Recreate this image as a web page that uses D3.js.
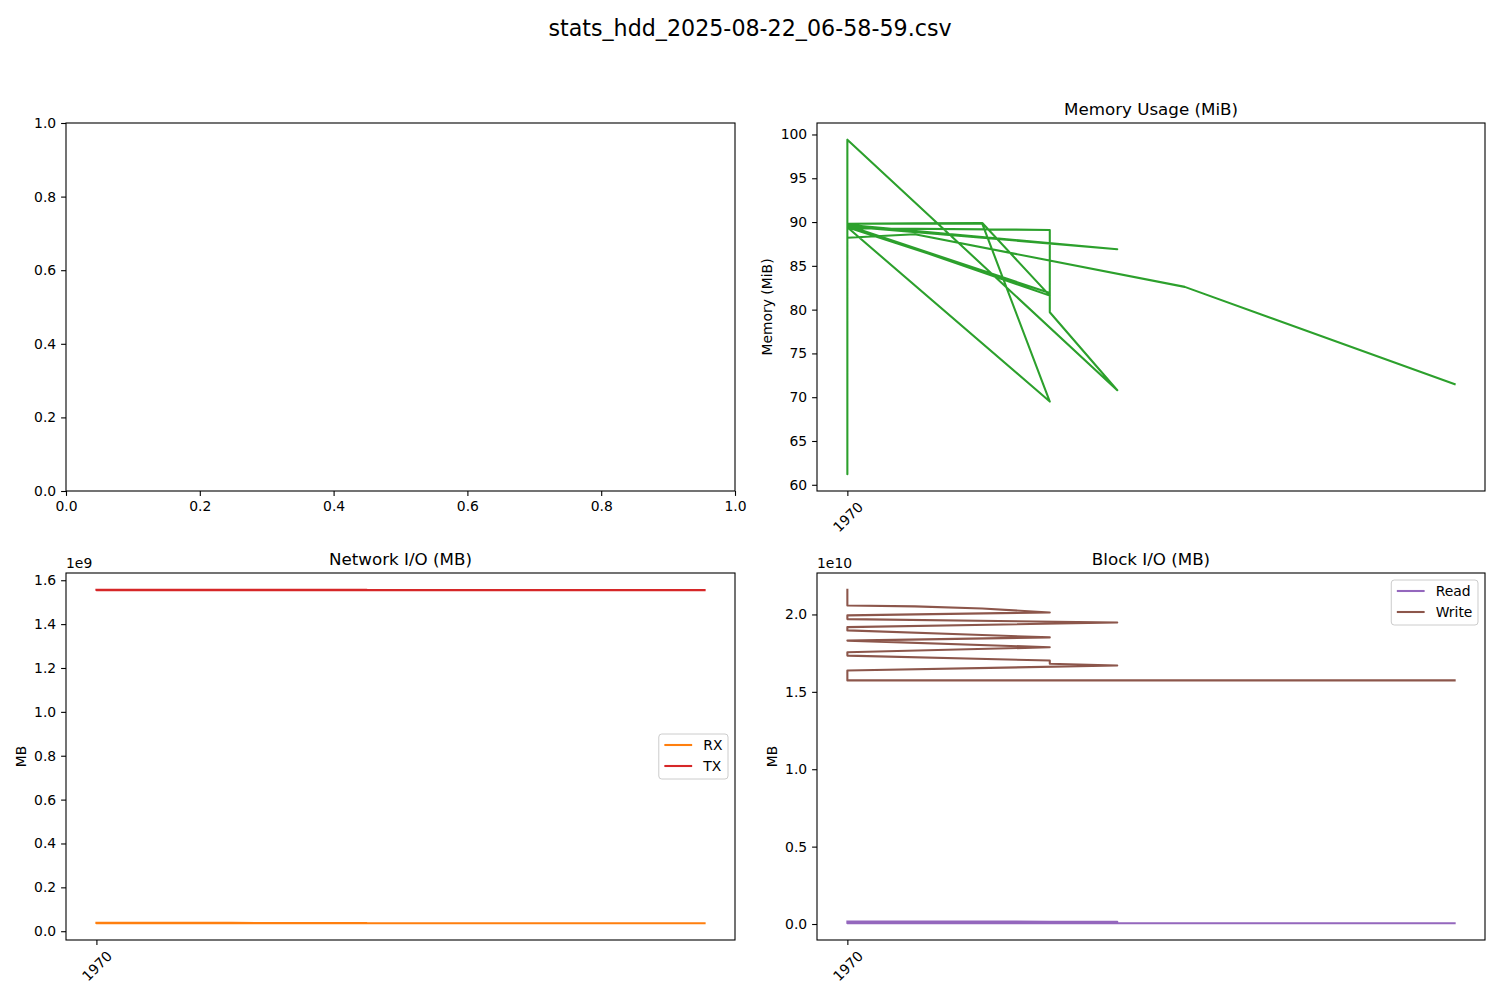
<!DOCTYPE html>
<html>
<head>
<meta charset="utf-8">
<script src="https://cdn.jsdelivr.net/npm/d3@7"></script>
<style>
  body { margin: 0; background: #fff; }
  text { font-family: "DejaVu Sans", sans-serif; fill: #000; }
</style>
</head>
<body>
<div id="chart"></div>
<script>
// Samples in file order. Time positions are tiny offsets from the epoch,
// so matplotlib only labels one tick: 1970.
const sampleTime = [0, 0, 1, 2, 3, 0, 0, 4, 0, 0, 2, 3, 0, 3, 0, 0, 3, 3, 4, 0, 0, 0, 1, 5, 9];
const memMiB = [89.7, 89.8, 89.85, 89.9, 81.6, 89.6, 89.7, 86.9, 89.5, 89.8, 89.8, 69.5, 89.4, 81.9,
  89.6, 89.3, 89.1, 79.7, 70.8, 99.4, 61.2, 88.2, 88.6, 82.6, 71.5];
// network, units of 1e9
const netRx = [0.038, 0.038, 0.038, 0.038, 0.037, 0.038, 0.038, 0.037, 0.038, 0.037, 0.037, 0.037, 0.037, 0.036,
  0.037, 0.037, 0.036, 0.036, 0.036, 0.036, 0.036, 0.036, 0.036, 0.036, 0.036];
const netTx = [1.557, 1.557, 1.557, 1.557, 1.556, 1.557, 1.557, 1.556, 1.557, 1.556, 1.556, 1.556, 1.556, 1.555,
  1.556, 1.556, 1.555, 1.555, 1.555, 1.555, 1.555, 1.555, 1.555, 1.555, 1.555];
// block io, units of 1e10
const blkRead = [0.016, 0.0155, 0.0155, 0.0154, 0.015, 0.0149, 0.0148, 0.0145, 0.0145, 0.0143, 0.0143, 0.014, 0.014, 0.0138,
  0.0138, 0.0137, 0.0135, 0.0135, 0.0134, 0.0134, 0.0045, 0.0045, 0.0045, 0.0045, 0.0045];
const blkWrite = [2.16, 2.058, 2.052, 2.038, 2.013, 1.994, 1.97, 1.948, 1.918, 1.897, 1.867, 1.852, 1.831, 1.788,
  1.756, 1.734, 1.702, 1.681, 1.670, 1.638, 1.574, 1.574, 1.574, 1.574, 1.574];

const timeTicks = [0];
const timeTickLabels = ["1970"];
const memTicks = [60, 65, 70, 75, 80, 85, 90, 95, 100];
const netTicks = [0, 0.2, 0.4, 0.6, 0.8, 1.0, 1.2, 1.4, 1.6];
const blkTicks = [0, 0.5, 1.0, 1.5, 2.0];
const unitTicks = [0, 0.2, 0.4, 0.6, 0.8, 1.0];

const colors = { rx: "#ff7f0e", tx: "#d62728", mem: "#2ca02c", read: "#9467bd", write: "#8c564b" };

const width = 1500, height = 1000;
const tickFont = 13.9, titleFont = 16.7, lineW = 2.08;

// axes boxes, same grid as plt.subplots(2, 2)
const panels = {
  empty: { left: 66, right: 735, top: 123, bottom: 491 },
  mem:   { left: 817, right: 1485, top: 123, bottom: 491 },
  net:   { left: 66, right: 735, top: 573, bottom: 940 },
  blk:   { left: 817, right: 1485, top: 573, bottom: 940 }
};

const svg = d3.select("#chart").append("svg")
  .attr("width", width)
  .attr("height", height);

// matplotlib style autoscale: data extent plus 5% each side
function padExtent(values) {
  const [lo, hi] = d3.extent(values);
  const m = (hi - lo) * 0.05;
  return [lo - m, hi + m];
}

function styleAxis(g) {
  g.select(".domain").remove();
  g.selectAll(".tick line").attr("stroke", "#000").attr("stroke-width", 1.1);
  g.selectAll(".tick text").style("font-size", tickFont + "px").attr("fill", "#000");
}

function drawFrame(p) {
  svg.append("rect")
    .attr("x", p.left).attr("y", p.top)
    .attr("width", p.right - p.left).attr("height", p.bottom - p.top)
    .attr("fill", "none").attr("stroke", "#000").attr("stroke-width", 1.1);
}

function timeAxis(p, x) {
  const g = svg.append("g")
    .attr("transform", `translate(0,${p.bottom})`)
    .call(d3.axisBottom(x).tickValues(timeTicks).tickFormat((d, i) => timeTickLabels[i])
      .tickSize(4.9).tickPadding(4.9));
  styleAxis(g);
  g.selectAll(".tick text")
    .attr("y", 0).attr("dy", null)
    .attr("text-anchor", "middle")
    .attr("dominant-baseline", "central")
    .attr("transform", "translate(0,26) rotate(-45)");
}

function valueAxis(p, y, ticks, fmt) {
  const g = svg.append("g")
    .attr("transform", `translate(${p.left},0)`)
    .call(d3.axisLeft(y).tickValues(ticks).tickFormat(fmt).tickSize(4.9).tickPadding(4.9));
  styleAxis(g);
}

function addTitle(p, text) {
  svg.append("text")
    .attr("x", (p.left + p.right) / 2)
    .attr("y", p.top - 8.3)
    .attr("text-anchor", "middle")
    .style("font-size", titleFont + "px")
    .text(text);
}

function addYLabel(p, x, text) {
  svg.append("text")
    .attr("text-anchor", "middle")
    .attr("dominant-baseline", "central")
    .attr("transform", `translate(${x},${(p.top + p.bottom) / 2}) rotate(-90)`)
    .style("font-size", tickFont + "px")
    .text(text);
}

function addOffset(p, text) {
  svg.append("text")
    .attr("x", p.left)
    .attr("y", p.top - 5)
    .style("font-size", tickFont + "px")
    .text(text);
}

function drawSeries(x, y, values, color) {
  const line = d3.line()
    .x((d, i) => x(sampleTime[i]))
    .y(d => y(d));
  svg.append("path")
    .datum(values)
    .attr("fill", "none")
    .attr("stroke", color)
    .attr("stroke-width", lineW)
    .attr("stroke-linejoin", "round")
    .attr("stroke-linecap", "square")
    .attr("d", line);
}

function addLegend(p, items, anchor) {
  const em = tickFont;
  const pad = 0.4 * em, handle = 2 * em, gap = 0.8 * em;
  const rowGap = 21;
  const boxH = 45;
  const top = anchor === "upper right" ? p.top + 7 : (p.top + p.bottom) / 2 - boxH / 2;
  const g = svg.append("g");
  const box = g.append("rect")
    .attr("height", boxH)
    .attr("rx", 3)
    .attr("fill", "#fff").attr("fill-opacity", 0.8)
    .attr("stroke", "#cccccc").attr("stroke-width", 1);
  const labels = items.map((d, i) => {
    const cy = 11 + i * rowGap;
    g.append("line")
      .attr("x1", pad).attr("x2", pad + handle)
      .attr("y1", cy).attr("y2", cy)
      .attr("stroke", d.color).attr("stroke-width", lineW);
    return g.append("text")
      .attr("x", pad + handle + gap)
      .attr("y", cy)
      .attr("dominant-baseline", "central")
      .style("font-size", em + "px")
      .text(d.label);
  });
  const textW = d3.max(labels, t => t.node().getComputedTextLength());
  const boxW = pad * 2 + handle + gap + textW;
  box.attr("width", boxW);
  g.attr("transform", `translate(${p.right - 7 - boxW},${top})`);
}

// figure title
svg.append("text")
  .attr("x", width / 2)
  .attr("y", 36)
  .attr("text-anchor", "middle")
  .style("font-size", "22.2px")
  .text("stats_hdd_2025-08-22_06-58-59.csv");

// top-left: empty axes (CPU plot had nothing to draw)
{
  const p = panels.empty;
  const x = d3.scaleLinear().domain([0, 1]).range([p.left, p.right]);
  const y = d3.scaleLinear().domain([0, 1]).range([p.bottom, p.top]);
  drawFrame(p);
  const gx = svg.append("g")
    .attr("transform", `translate(0,${p.bottom})`)
    .call(d3.axisBottom(x).tickValues(unitTicks).tickFormat(d3.format(".1f")).tickSize(4.9).tickPadding(4.9));
  styleAxis(gx);
  valueAxis(p, y, unitTicks, d3.format(".1f"));
}

// top-right: memory
{
  const p = panels.mem;
  const x = d3.scaleLinear().domain(padExtent(sampleTime)).range([p.left, p.right]);
  const y = d3.scaleLinear().domain(padExtent(memMiB)).range([p.bottom, p.top]);
  drawSeries(x, y, memMiB, colors.mem);
  drawFrame(p);
  timeAxis(p, x);
  valueAxis(p, y, memTicks, d3.format("d"));
  addTitle(p, "Memory Usage (MiB)");
  addYLabel(p, 767, "Memory (MiB)");
}

// bottom-left: network
{
  const p = panels.net;
  const x = d3.scaleLinear().domain(padExtent(sampleTime)).range([p.left, p.right]);
  const y = d3.scaleLinear().domain(padExtent(netRx.concat(netTx))).range([p.bottom, p.top]);
  drawSeries(x, y, netRx, colors.rx);
  drawSeries(x, y, netTx, colors.tx);
  drawFrame(p);
  timeAxis(p, x);
  valueAxis(p, y, netTicks, d3.format(".1f"));
  addTitle(p, "Network I/O (MB)");
  addYLabel(p, 21, "MB");
  addOffset(p, "1e9");
  addLegend(p, [{ label: "RX", color: colors.rx }, { label: "TX", color: colors.tx }], "center right");
}

// bottom-right: block io
{
  const p = panels.blk;
  const x = d3.scaleLinear().domain(padExtent(sampleTime)).range([p.left, p.right]);
  const y = d3.scaleLinear().domain(padExtent(blkRead.concat(blkWrite))).range([p.bottom, p.top]);
  drawSeries(x, y, blkRead, colors.read);
  drawSeries(x, y, blkWrite, colors.write);
  drawFrame(p);
  timeAxis(p, x);
  valueAxis(p, y, blkTicks, d3.format(".1f"));
  addTitle(p, "Block I/O (MB)");
  addYLabel(p, 772, "MB");
  addOffset(p, "1e10");
  addLegend(p, [{ label: "Read", color: colors.read }, { label: "Write", color: colors.write }], "upper right");
}
</script>
</body>
</html>
